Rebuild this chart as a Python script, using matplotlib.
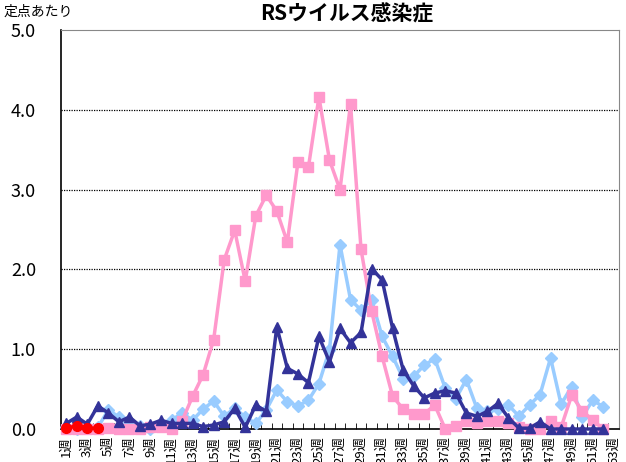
import numpy as np
import matplotlib.pyplot as plt

plt.rcParams['font.family'] = ['Noto Sans CJK JP', 'DejaVu Sans']

title = 'RSウイルス感染症'
ylabel = '定点あたり'
weeks = np.arange(1, 54)
week_labels = ['%d週' % w for w in weeks]
yticks = [0.0, 1.0, 2.0, 3.0, 4.0, 5.0]

# pink squares (big season), weeks 1-52
pink = [0.0, 0.0, 0.0, 0.0, 0.01, 0.0, 0.0, 0.0, 0.02, 0.02, 0.0, 0.1,
        0.41, 0.68, 1.12, 2.12, 2.49, 1.85, 2.67, 2.93, 2.73, 2.34, 3.34, 3.28, 4.16,
        3.37, 3.0, 4.07, 2.25,
        1.48, 0.91, 0.41, 0.25, 0.19, 0.19, 0.3, 0.0, 0.04, 0.1, 0.08, 0.1, 0.1,
        0.08, 0.02, 0.0, 0.0, 0.1, 0.02, 0.42, 0.23, 0.11, 0.0]
# light blue diamonds
light = [0.02, 0.0, 0.02, 0.02, 0.24, 0.15, 0.09, 0.04, 0.0, 0.04, 0.11, 0.2,
         0.11, 0.25, 0.35, 0.16, 0.26, 0.15, 0.07, 0.24, 0.49, 0.34, 0.29, 0.36,
         0.57, 0.99, 2.31, 1.62, 1.49, 1.62, 1.16, 0.91, 0.63, 0.66, 0.8, 0.88,
         0.51, 0.38, 0.62, 0.26, 0.22, 0.25, 0.3, 0.16, 0.3, 0.43, 0.89, 0.31,
         0.53, 0.15, 0.36, 0.28]
# navy triangles
navy = [0.07, 0.15, 0.06, 0.29, 0.2, 0.09, 0.15, 0.04, 0.06, 0.11, 0.07, 0.07,
        0.07, 0.03, 0.05, 0.09, 0.26, 0.02, 0.3, 0.22, 1.28, 0.76, 0.69, 0.58,
        1.16, 0.84, 1.26, 1.08, 1.21, 2.01, 1.87, 1.26, 0.74, 0.54, 0.39, 0.45,
        0.48, 0.45, 0.2, 0.16, 0.22, 0.32, 0.14, 0.01, 0.01, 0.09, 0.0, 0.0,
        0.0, 0.0, 0.0, 0.0]
# current year, red circles
current = [0.01, 0.04, 0.01, 0.01]

fig = plt.figure(figsize=(6.26, 4.62), dpi=100)
ax = fig.add_axes([61/626, 33/462, 558/626, 399/462])

ax.plot(weeks[:len(light)], light, color='#99CCFF', lw=2.5, marker='D', ms=6.5,
        clip_on=False, zorder=3)
ax.plot(weeks[:len(pink)], pink, color='#FF99CC', lw=2.5, marker='s', ms=6.5,
        clip_on=False, zorder=4)
ax.plot(weeks[:len(navy)], navy, color='#333399', lw=2.5, marker='^', ms=7,
        clip_on=False, zorder=5)
ax.plot(weeks[:len(current)], current, color='#FF0000', lw=2.5, marker='o', ms=7,
        clip_on=False, zorder=6)

ax.set_xlim(0.5, 53.5)
ax.set_ylim(0, 5)
ax.set_yticks(yticks)
ax.set_yticklabels(['%.1f' % v for v in yticks], fontsize=13)
ax.tick_params(axis='y', length=0, pad=18)

ax.set_xticks(weeks[::2])
ax.set_xticklabels(week_labels[::2], rotation=90, fontsize=9.5, va='top')
ax.set_xticks(np.arange(0.5, 54, 1), minor=True)
ax.tick_params(axis='x', which='major', length=0, pad=5)
ax.tick_params(axis='x', which='minor', direction='in', length=4, color='black')

for v in yticks[1:5]:
    ax.axhline(v, color='black', lw=0.9, ls=(0, (1, 1)), zorder=1)

ax.spines['left'].set_color('black')
ax.spines['bottom'].set_color('black')
ax.spines['left'].set_linewidth(1.2)
ax.spines['bottom'].set_linewidth(1.2)
ax.spines['top'].set_color('#888888')
ax.spines['right'].set_color('#888888')

fig.text(347/626, 1 - 14/462, title, ha='center', va='center', fontsize=15,
         fontweight='bold')
fig.text(4/626, 1 - 12/462, ylabel, ha='left', va='center', fontsize=10)

fig.savefig('out.png', dpi=100)
